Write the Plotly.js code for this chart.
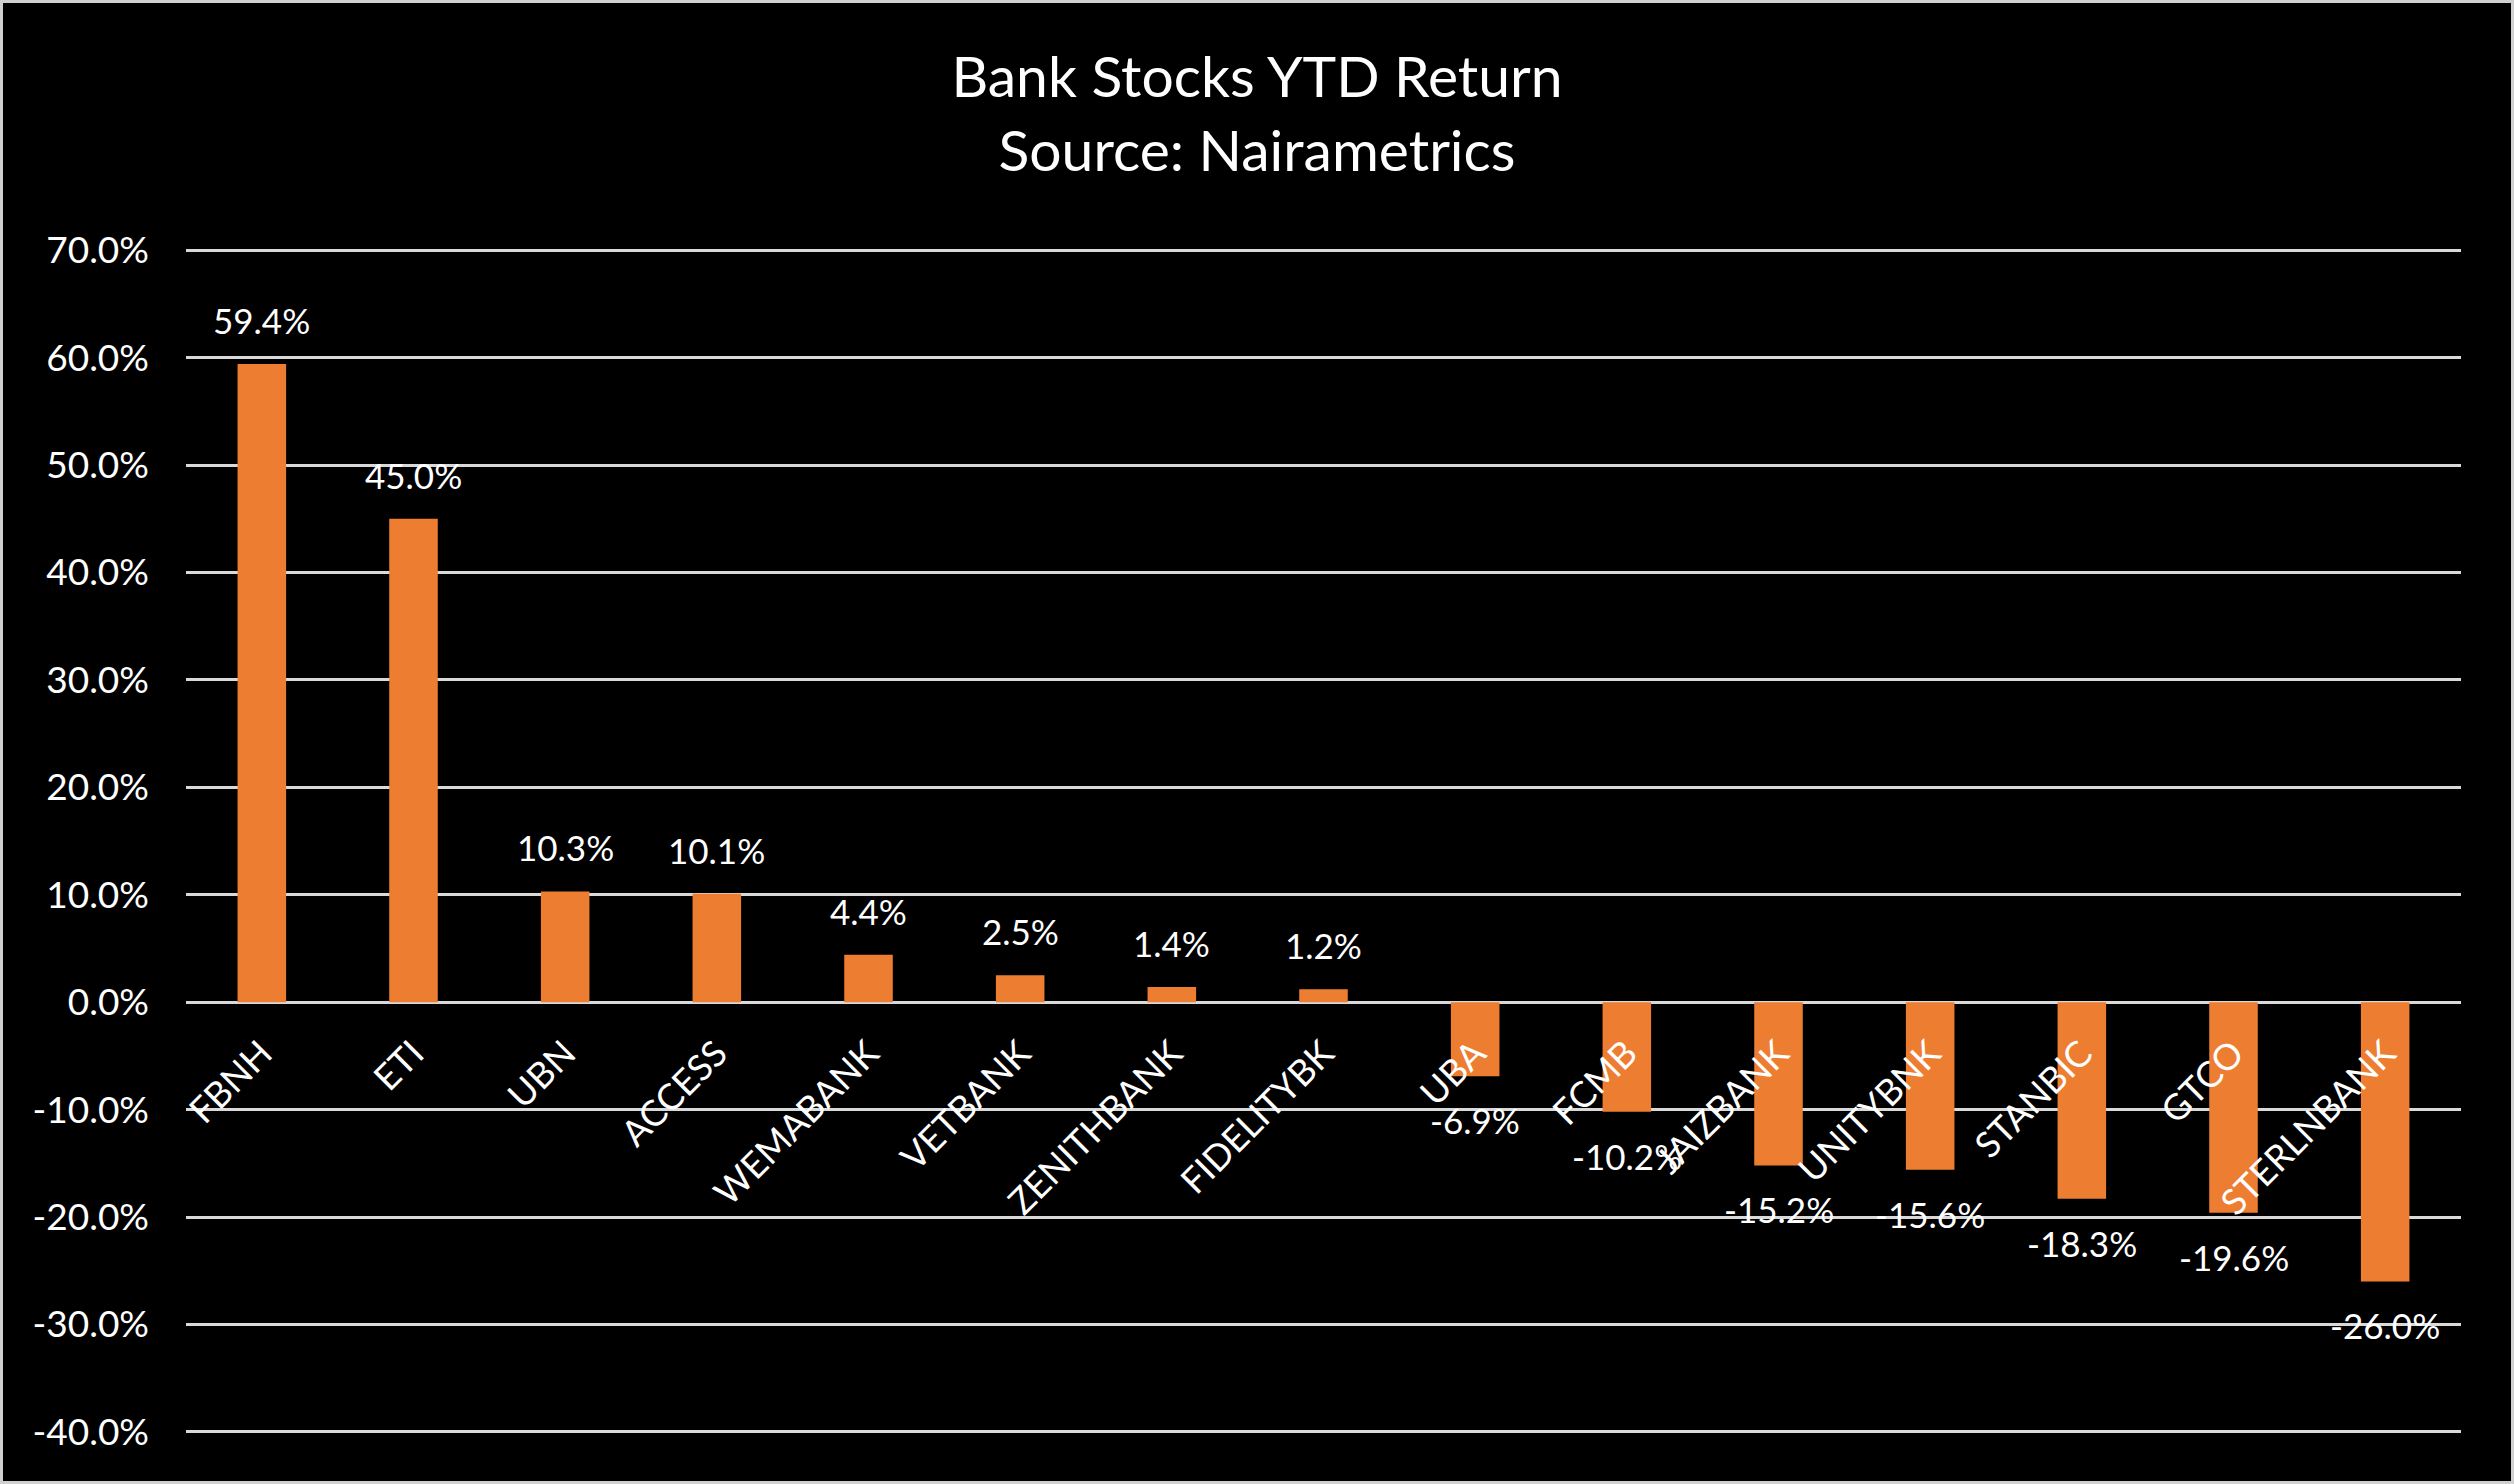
<!DOCTYPE html>
<html>
<head>
<meta charset="utf-8">
<script src="https://cdn.plot.ly/plotly-3.0.1.min.js"></script>
<style>
  html, body { margin: 0; padding: 0; background: #000; }
  #frame { width: 2514px; height: 1484px; box-sizing: border-box; border: 3px solid #d0d0d0; background: #000; }
</style>
</head>
<body>
<div id="frame"><div id="chart"></div></div>
<script>
// Bank stocks YTD return (%)
const banks = ['FBNH', 'ETI', 'UBN', 'ACCESS', 'WEMABANK', 'VETBANK', 'ZENITHBANK', 'FIDELITYBK',
               'UBA', 'FCMB', 'JAIZBANK', 'UNITYBNK', 'STANBIC', 'GTCO', 'STERLNBANK'];
const ytd = [59.4, 45.0, 10.3, 10.1, 4.4, 2.5, 1.4, 1.2,
             -6.9, -10.2, -15.2, -15.6, -18.3, -19.6, -26.0];
const yTicks = [-40, -30, -20, -10, 0, 10, 20, 30, 40, 50, 60, 70];

const W = 2508, H = 1478;
const yMin = -40.2, yMax = 70.2;
const font = 'Lato, "Open Sans", sans-serif';

var trace = {
  type: 'bar',
  x: banks,
  y: ytd,
  marker: {color: '#ED7D31'},
  hoverinfo: 'none'
};

// data labels: above positive bars, below negative ones
var labels = banks.map((b, i) => ({
  x: b,
  y: ytd[i],
  text: ytd[i].toFixed(1) + '%',
  showarrow: false,
  xanchor: 'center',
  yanchor: 'middle',
  yshift: ytd[i] >= 0 ? 44 : -44,
  font: {color: '#ffffff', size: 35, family: font}
}));

var layout = {
  width: W,
  height: H,
  paper_bgcolor: '#000000',
  plot_bgcolor: '#000000',
  showlegend: false,
  margin: {l: 183, r: 50, t: 245, b: 47},
  bargap: 0.68,
  title: {
    text: 'Bank Stocks YTD Return<br>Source: Nairametrics',
    font: {color: '#ffffff', size: 57, family: font},
    x: 0.5, xanchor: 'center',
    yref: 'container',
    y: 1 - 94 / H, yanchor: 'middle'
  },
  annotations: labels,
  xaxis: {
    anchor: 'free',
    position: (0 - yMin) / (yMax - yMin),
    tickangle: -45,
    showgrid: false,
    showline: false,
    ticks: '',
    ticklabelstandoff: 22,
    automargin: false,
    tickfont: {color: '#ffffff', size: 36, family: font}
  },
  yaxis: {
    range: [yMin, yMax],
    tickvals: yTicks,
    ticktext: yTicks.map(v => v.toFixed(1) + '%'),
    gridcolor: '#d9d9d9',
    gridwidth: 3,
    zeroline: true,
    zerolinecolor: '#d9d9d9',
    zerolinewidth: 3,
    showline: false,
    ticks: '',
    ticklabelstandoff: 36,
    automargin: false,
    tickfont: {color: '#ffffff', size: 37, family: font}
  }
};

Plotly.newPlot('chart', [trace], layout, {staticPlot: true, displayModeBar: false});
</script>
</body>
</html>
